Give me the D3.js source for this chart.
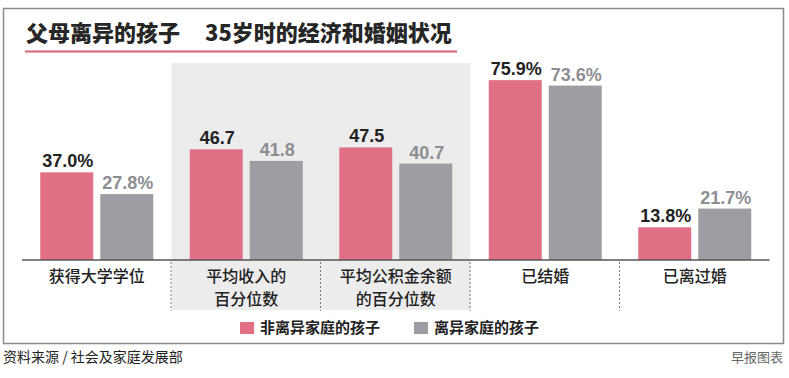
<!DOCTYPE html>
<html>
<head>
<meta charset="utf-8">
<script src="https://cdn.jsdelivr.net/npm/d3@7"></script>
<style>
  body { margin: 0; background: #fff; }
  text { font-family: "Liberation Sans", "Noto Sans CJK SC", sans-serif; }
  .cjk { font-family: "Noto Sans CJK SC", "Liberation Sans", sans-serif; }
</style>
</head>
<body>
<div id="chart"></div>
<script>
const categories = [['获得大学学位'], ['平均收入的', '百分位数'], ['平均公积金余额', '的百分位数'], ['已结婚'], ['已离过婚']];
const seriesNames = ['非离异家庭的孩子', '离异家庭的孩子'];
const intactValues = [37.0, 46.7, 47.5, 75.9, 13.8];
const divorcedValues = [27.8, 41.8, 40.7, 73.6, 21.7];
const units = ['%', '', '', '%', '%'];
const shadedCats = [1, 2];

const colors = ['#e17087', '#9d9ea2'];
const labelColors = ['#222', '#8d8e92'];

const width = 789, height = 378;
const svg = d3.select('#chart').append('svg')
  .attr('width', width)
  .attr('height', height);

// frame
svg.append('rect')
  .attr('x', 3.5).attr('y', 8.5)
  .attr('width', 780).attr('height', 335)
  .attr('fill', 'none')
  .attr('stroke', '#8a8a8a')
  .attr('stroke-width', 1.5);

const baseY = 260;
const x0 = d3.scaleBand()
  .domain(d3.range(categories.length))
  .range([22, 769.5]);
const x1 = d3.scaleBand()
  .domain(d3.range(seriesNames.length))
  .range([18.25, 131.25])
  .paddingInner(0.117);
const y = d3.scaleLinear()
  .domain([0, 80])
  .range([baseY, baseY - 189.6]);

// shaded panel
svg.append('rect')
  .attr('x', x0(shadedCats[0]))
  .attr('y', 63)
  .attr('width', x0.bandwidth() * shadedCats.length)
  .attr('height', 310 - 63)
  .attr('fill', '#ececec');

// title
svg.append('text')
  .attr('class', 'cjk')
  .attr('x', 26).attr('y', 41)
  .attr('font-size', 22)
  .attr('font-weight', 900)
  .attr('fill', '#262626')
  .text('父母离异的孩子');
svg.append('text')
  .attr('class', 'cjk')
  .attr('x', 205).attr('y', 41)
  .attr('font-size', 22)
  .attr('font-weight', 900)
  .attr('fill', '#262626')
  .text('35岁时的经济和婚姻状况');
svg.append('line')
  .attr('x1', 25).attr('x2', 457)
  .attr('y1', 51.5).attr('y2', 51.5)
  .attr('stroke', '#d9607a')
  .attr('stroke-width', 2);

// separators
svg.selectAll('.sep').data(d3.range(1, categories.length))
  .enter().append('line')
    .attr('class', 'sep')
    .attr('x1', d => x0(d) - 0.5)
    .attr('x2', d => x0(d) - 0.5)
    .attr('y1', baseY + 2)
    .attr('y2', 311)
    .attr('stroke', '#777')
    .attr('stroke-dasharray', '2,2');

const rows = categories.map((c, i) => [intactValues[i], divorcedValues[i]]);

const groups = svg.selectAll('.grp').data(rows)
  .enter().append('g')
    .attr('class', 'grp')
    .attr('transform', (d, i) => `translate(${x0(i)},0)`);

groups.selectAll('rect').data(d => d.map((v, s) => ({ v, s })))
  .enter().append('rect')
    .attr('x', d => x1(d.s))
    .attr('y', d => y(d.v))
    .attr('width', x1.bandwidth())
    .attr('height', d => baseY - y(d.v))
    .attr('fill', d => colors[d.s]);

groups.each(function (d, i) {
  d3.select(this).selectAll('.val').data(d.map((v, s) => ({ v, s })))
    .enter().append('text')
      .attr('class', 'val')
      .attr('x', e => x1(e.s) + x1.bandwidth() / 2 + 1)
      .attr('y', e => y(e.v) - 5)
      .attr('text-anchor', 'middle')
      .attr('font-size', 18)
      .attr('font-weight', 'bold')
      .attr('fill', e => labelColors[e.s])
      .text(e => e.v.toFixed(1) + units[i]);
});

// baseline
svg.append('line')
  .attr('x1', x0.range()[0]).attr('x2', x0.range()[1])
  .attr('y1', baseY).attr('y2', baseY)
  .attr('stroke', '#555')
  .attr('stroke-width', 1.5);

// category labels, one text per line
categories.forEach((lines, i) => {
  lines.forEach((ln, k) => {
    svg.append('text')
      .attr('class', 'cjk')
      .attr('x', x0(i) + x0.bandwidth() / 2)
      .attr('y', 281.5 + k * 23.3)
      .attr('text-anchor', 'middle')
      .attr('font-size', 16)
      .attr('font-weight', 500)
      .attr('fill', '#222')
      .text(ln);
  });
});

// legend
const legendX = [240, 414];
seriesNames.forEach((name, s) => {
  svg.append('rect')
    .attr('x', legendX[s]).attr('y', 322)
    .attr('width', 14).attr('height', 12)
    .attr('fill', colors[s]);
  svg.append('text')
    .attr('class', 'cjk')
    .attr('x', legendX[s] + 20).attr('y', 333)
    .attr('font-size', 15)
    .attr('font-weight', 'bold')
    .attr('fill', '#222')
    .text(name);
});

// footer
svg.append('text')
  .attr('class', 'cjk')
  .attr('x', 3).attr('y', 362)
  .attr('font-size', 14)
  .attr('fill', '#222')
  .text('资料来源 / 社会及家庭发展部');
svg.append('text')
  .attr('class', 'cjk')
  .attr('x', 783).attr('y', 362)
  .attr('text-anchor', 'end')
  .attr('font-size', 13)
  .attr('fill', '#666')
  .text('早报图表');
</script>
</body>
</html>
